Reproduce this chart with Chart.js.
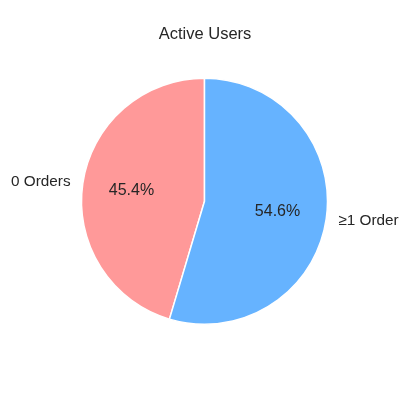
<!DOCTYPE html>
<html>
<head>
<meta charset="utf-8">
<script src="https://cdn.jsdelivr.net/npm/chart.js@4"></script>
<style>
html,body{margin:0;padding:0;background:#fff;}
#wrap{width:400px;height:400px;}
</style>
</head>
<body>
<div id="wrap"><canvas id="c" width="400" height="400"></canvas></div>
<script>
const titleText = "Active Users";
const categories = ["0 Orders", "≥1 Order"];
const values = [45.4, 54.6];
const colors = ["#ff9999", "#66b3ff"];
const textColor = "#262626";
const FONT = "'Liberation Sans', Arial, sans-serif";

const total = values.reduce((a, b) => a + b, 0);

const pieLabels = {
  id: 'pieLabels',
  afterDatasetsDraw(chart) {
    const ctx = chart.ctx;
    const meta = chart.getDatasetMeta(0);
    ctx.save();
    ctx.fillStyle = textColor;
    meta.data.forEach((arc, i) => {
      const p = arc.getProps(['x', 'y', 'startAngle', 'endAngle', 'outerRadius'], true);
      const mid = (p.startAngle + p.endAngle) / 2;
      const cx = Math.cos(mid), cy = Math.sin(mid);
      ctx.font = "16px " + FONT;
      ctx.textAlign = 'center';
      ctx.textBaseline = 'middle';
      const pct = (values[i] / total * 100).toFixed(1) + '%';
      ctx.fillText(pct, p.x + cx * p.outerRadius * 0.6, p.y + cy * p.outerRadius * 0.6);
      ctx.font = "15.3px " + FONT;
      ctx.textAlign = cx < 0 ? 'right' : 'left';
      ctx.fillText(categories[i], p.x + cx * p.outerRadius * 1.1, p.y + cy * p.outerRadius * 1.1);
    });
    ctx.font = "16.5px " + FONT;
    ctx.textAlign = 'center';
    ctx.textBaseline = 'middle';
    ctx.fillText(titleText, 205, 34);
    ctx.restore();
  }
};

new Chart(document.getElementById('c'), {
  type: 'pie',
  data: {
    labels: categories,
    datasets: [{
      data: values,
      backgroundColor: colors,
      borderColor: '#ffffff',
      borderWidth: 1.5
    }]
  },
  options: {
    responsive: false,
    animation: false,
    rotation: -values[0] / total * 360,
    layout: { padding: { left: 80.75, right: 71.75, top: 77.5, bottom: 75 } },
    plugins: {
      legend: { display: false },
      title: { display: false },
      tooltip: { enabled: false }
    }
  },
  plugins: [pieLabels]
});
</script>
</body>
</html>
